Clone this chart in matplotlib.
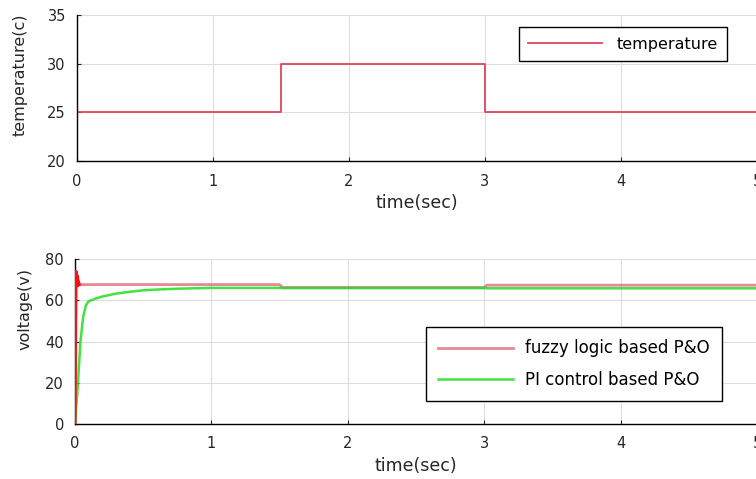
import matplotlib
matplotlib.use('Agg')
import matplotlib.pyplot as plt

# temperature profile (step input)
t_temp = [0, 1.5, 1.5, 3, 3, 5]
temp = [25, 25, 30, 30, 25, 25]

# fuzzy logic based P&O output voltage
t_fuzzy = [0, 0.004, 0.007, 0.009, 0.011, 0.013, 0.015, 0.017, 0.019, 0.022,
           0.026, 0.03, 0.04, 1.5, 1.52, 3.0, 3.02, 5.0]
v_fuzzy = [0, 45, 74, 69, 73, 68, 72, 67, 71, 67.5,
           69, 67.6, 67.6, 67.6, 66.2, 66.2, 67.3, 67.3]

# PI control based P&O output voltage
t_pi = [0, 0.02, 0.04, 0.06, 0.08, 0.1, 0.15, 0.2, 0.3, 0.4, 0.5, 0.6,
        0.75, 1.0, 1.5, 1.52, 3.0, 3.02, 5.0]
v_pi = [0, 18, 40, 52, 57.5, 59.5, 60.8, 61.8, 63.2, 64.1, 64.8, 65.2,
        65.6, 66.0, 66.0, 65.9, 65.9, 65.8, 65.8]

xticks = [0, 1, 2, 3, 4, 5]
txt = '#262626'

fig = plt.figure(figsize=(7.56, 4.79), dpi=100)


def style_axes(ax):
    ax.set_xlim(0, 5)
    ax.set_xticks(xticks)
    ax.grid(True, color='#dddddd', linewidth=0.8)
    ax.set_axisbelow(True)
    for side in ['top', 'right']:
        ax.spines[side].set_visible(False)
    for side in ['left', 'bottom']:
        ax.spines[side].set_linewidth(1.0)
    ax.tick_params(direction='in', length=3, labelsize=10.5, colors=txt)
    ax.tick_params(axis='x', pad=9)
    ax.tick_params(axis='y', pad=8)
    ax.set_xlabel('time(sec)', fontsize=12.5, color=txt, labelpad=4)


# top: temperature
ax1 = fig.add_axes([77 / 756, 1 - 161 / 479, 680 / 756, 146 / 479])
ax1.plot(t_temp, temp, color='#e0455c', linewidth=1.3, label='temperature')
ax1.set_ylim(20, 35)
ax1.set_yticks([20, 25, 30, 35])
style_axes(ax1)
ax1.set_ylabel('temperature(c)', fontsize=11.5, color=txt)
ax1.yaxis.set_label_coords(-0.072, 0.59)
leg1 = ax1.legend(loc='upper right', bbox_to_anchor=(0.956, 0.918), fontsize=11.5,
                  fancybox=False, edgecolor='black', framealpha=1,
                  borderaxespad=0, handlelength=4.6, borderpad=0.6,
                  handletextpad=0.9)
leg1.get_frame().set_linewidth(1.0)

# bottom: output voltage
ax2 = fig.add_axes([75 / 756, 1 - 424 / 479, 682 / 756, 165 / 479])
ax2.plot(t_fuzzy, v_fuzzy, color='#d9485e', alpha=0.65, linewidth=2.0,
         label='fuzzy logic based P&O', zorder=3)
# start-up oscillation of the fuzzy controller, drawn solid red
ax2.plot(t_fuzzy[:12], v_fuzzy[:12], color='#ff1010', linewidth=2.2, zorder=3.5)
ax2.plot(t_pi, v_pi, color='#22dd22', alpha=0.85, linewidth=1.8,
         label='PI control based P&O', zorder=3)
ax2.set_ylim(0, 80)
ax2.set_yticks([0, 20, 40, 60, 80])
style_axes(ax2)
ax2.set_ylabel('voltage(v)', fontsize=11.5, color=txt)
ax2.yaxis.set_label_coords(-0.062, 0.70)
leg2 = ax2.legend(loc='upper right', bbox_to_anchor=(0.949, 0.588), fontsize=12,
                  fancybox=False, edgecolor='black', framealpha=1,
                  borderaxespad=0, handlelength=4.5, borderpad=0.75,
                  handletextpad=0.7, labelspacing=0.8)
leg2.get_frame().set_linewidth(1.0)

fig.savefig('out.png', dpi=100)
